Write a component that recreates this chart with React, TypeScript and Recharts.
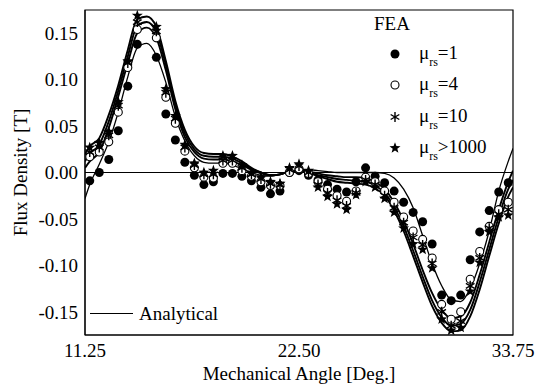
import React from 'react';
import { ComposedChart, Line, Scatter, XAxis, YAxis, ReferenceLine, ReferenceArea } from 'recharts';

const FONT = '"Liberation Serif", "Times New Roman", Times, serif';
const FS = 19;

// Analytical curves: angle [deg] and flux density [T]
const lineAngles = [
  11.25, 11.5, 12.0, 12.5, 13.0, 13.5, 14.0, 14.5, 15.0, 15.5,
  16.0, 16.5, 17.0, 17.5, 18.0, 18.5, 19.0, 19.5, 20.0, 20.5,
  21.0, 21.5, 22.0, 22.5, 23.0, 23.5, 24.0, 24.5, 25.0, 25.5,
  26.0, 26.5, 27.0, 27.5, 28.0, 28.5, 29.0, 29.5, 30.0, 30.5,
  31.0, 31.5, 32.0, 32.5, 33.0, 33.5, 33.75,
];
const analyticMu1 = [
  -0.028, -0.013, 0.009, 0.033, 0.065, 0.103, 0.134, 0.139, 0.126, 0.097,
  0.060, 0.034, 0.018, 0.011, 0.010, 0.010, 0.008, 0.004, 0.000, -0.003,
  -0.004, -0.002, 0.001, 0.003, 0.003, 0.002, 0.001, 0.000, 0.000, 0.000,
  0.000, 0.000, -0.001, -0.006, -0.018, -0.038, -0.068, -0.098, -0.122, -0.137,
  -0.139, -0.125, -0.098, -0.063, -0.020, 0.012, 0.026,
];
const analyticMu4 = [
  0.005, 0.012, 0.022, 0.048, 0.082, 0.118, 0.150, 0.156, 0.145, 0.110,
  0.068, 0.038, 0.022, 0.015, 0.014, 0.014, 0.012, 0.008, 0.003, -0.001,
  -0.003, -0.002, 0.001, 0.002, 0.001, -0.001, -0.003, -0.004, -0.005, -0.005,
  -0.006, -0.010, -0.018, -0.032, -0.052, -0.077, -0.105, -0.130, -0.148, -0.157,
  -0.155, -0.140, -0.110, -0.075, -0.040, -0.010, 0.002,
];
const analyticMu10 = [
  0.012, 0.020, 0.030, 0.055, 0.088, 0.125, 0.158, 0.162, 0.151, 0.116,
  0.073, 0.042, 0.025, 0.018, 0.017, 0.017, 0.015, 0.010, 0.004, 0.000,
  -0.003, -0.002, 0.001, 0.002, 0.000, -0.003, -0.005, -0.007, -0.008, -0.009,
  -0.010, -0.014, -0.022, -0.037, -0.058, -0.084, -0.112, -0.138, -0.156, -0.165,
  -0.163, -0.148, -0.118, -0.083, -0.048, -0.018, -0.008,
];
const analyticMu1000 = [
  0.020, 0.028, 0.037, 0.062, 0.094, 0.132, 0.165, 0.168, 0.157, 0.120,
  0.077, 0.046, 0.028, 0.021, 0.020, 0.020, 0.017, 0.012, 0.005, 0.000,
  -0.003, -0.002, 0.001, 0.002, 0.000, -0.004, -0.007, -0.010, -0.011, -0.012,
  -0.013, -0.017, -0.025, -0.041, -0.063, -0.090, -0.118, -0.144, -0.162, -0.171,
  -0.170, -0.155, -0.126, -0.090, -0.055, -0.026, -0.016,
];

// FEA results
const feaAngles = [
  11.5, 12.0, 12.5, 13.0, 13.5, 14.0, 14.5, 15.0, 15.5, 16.0,
  16.5, 17.0, 17.5, 18.0, 18.5, 19.0, 19.5, 20.0, 20.5, 21.0,
  21.5, 22.0, 22.5, 23.0, 23.5, 24.0, 24.5, 25.0, 25.5, 26.0,
  26.5, 27.0, 27.5, 28.0, 28.5, 29.0, 29.5, 30.0, 30.5, 31.0,
  31.5, 32.0, 32.5, 33.0, 33.5,
];
const feaMu1 = [
  -0.009, 0.000, 0.014, 0.045, 0.093, 0.138, null, 0.124, 0.063, 0.035,
  0.011, -0.003, -0.013, -0.010, -0.001, -0.001, -0.004, -0.009, -0.016, -0.023,
  -0.020, 0.000, 0.002, -0.003, -0.008, -0.013, -0.018, -0.021, -0.010, 0.005,
  -0.004, -0.011, -0.020, -0.032, -0.043, -0.053, -0.077, -0.132, -0.138, -0.132,
  -0.094, -0.064, -0.041, -0.021, -0.011,
];
const feaMu4 = [
  0.017, 0.022, 0.033, 0.065, 0.113, 0.154, null, 0.145, 0.081, 0.053,
  0.023, 0.005, -0.005, -0.006, 0.010, 0.010, 0.002, -0.004, -0.010, -0.014,
  -0.014, 0.000, 0.004, -0.001, -0.010, -0.018, -0.025, -0.031, -0.020, -0.005,
  -0.010, -0.020, -0.032, -0.048, -0.063, -0.072, -0.092, -0.142, -0.158, -0.150,
  -0.115, -0.085, -0.058, -0.040, -0.032,
];
const feaMu10 = [
  0.022, 0.027, 0.040, 0.072, 0.118, 0.162, null, 0.152, 0.086, 0.058,
  0.027, 0.008, -0.002, -0.002, 0.013, 0.013, 0.005, -0.002, -0.007, -0.012,
  -0.013, 0.003, 0.007, 0.000, -0.013, -0.022, -0.030, -0.036, -0.022, -0.008,
  -0.013, -0.025, -0.038, -0.054, -0.070, -0.078, -0.098, -0.150, -0.165, -0.160,
  -0.122, -0.092, -0.060, -0.045, -0.040,
];
const feaMu1000 = [
  0.027, 0.032, 0.044, 0.076, 0.120, 0.169, null, 0.157, 0.090, 0.061,
  0.030, 0.010, 0.000, 0.002, 0.018, 0.018, 0.008, 0.000, -0.005, -0.010,
  -0.012, 0.005, 0.009, 0.002, -0.016, -0.026, -0.034, -0.040, -0.024, -0.010,
  -0.016, -0.028, -0.043, -0.060, -0.077, -0.083, -0.103, -0.158, -0.170, -0.167,
  -0.128, -0.097, -0.064, -0.048, -0.046,
];

const xTicks = [11.25, 22.5, 33.75];
const yTicks = [-0.15, -0.1, -0.05, 0, 0.05, 0.1, 0.15];
const legendLabels = ['=1', '=4', '=10', '>1000'];

const toPoints = (xs: number[], ys: (number | null)[]) =>
  xs.map((x, i) => ({ x, y: ys[i] })).filter((p) => p.y !== null);

const FilledDot = (p: any) => <circle cx={p.cx} cy={p.cy} r={4.5} fill="#000" />;
const OpenDot = (p: any) => <circle cx={p.cx} cy={p.cy} r={4} fill="#fff" stroke="#000" strokeWidth={1.1} />;
const AsteriskMark = (p: any) => {
  const r = 5;
  const segs = [90, 30, 150].map((a) => {
    const dx = r * Math.cos((a * Math.PI) / 180);
    const dy = r * Math.sin((a * Math.PI) / 180);
    return `M${p.cx - dx},${p.cy - dy}L${p.cx + dx},${p.cy + dy}`;
  });
  return <path d={segs.join('')} stroke="#000" strokeWidth={1.4} fill="none" />;
};
const starPath = (cx: number, cy: number, ro: number, ri: number) => {
  const pts: string[] = [];
  for (let k = 0; k < 10; k++) {
    const r = k % 2 === 0 ? ro : ri;
    const a = -Math.PI / 2 + (k * Math.PI) / 5;
    pts.push(`${cx + r * Math.cos(a)},${cy + r * Math.sin(a)}`);
  }
  return `M${pts.join('L')}Z`;
};
const StarMark = (p: any) => <path d={starPath(p.cx, p.cy, 5.8, 2.4)} fill="#000" />;

const YTitle = (props: any) => {
  const vb = props.viewBox || { x: 0, y: 10, width: 85, height: 325 };
  const cx = vb.x + 20;
  const cy = vb.y + vb.height / 2;
  return (
    <text x={cx} y={cy} transform={`rotate(-90 ${cx} ${cy})`} textAnchor="middle" dominantBaseline="central"
      fontFamily={FONT} fontSize={FS} fill="#000">Flux Density [T]</text>
  );
};
const XTitle = (props: any) => {
  const vb = props.viewBox || { x: 85, y: 335, width: 428, height: 50 };
  const cx = vb.x + vb.width / 2;
  const cy = vb.y + 38;
  return (
    <text x={cx} y={cy} textAnchor="middle" dominantBaseline="central"
      fontFamily={FONT} fontSize={FS} fill="#000">Mechanical Angle [Deg.]</text>
  );
};

const legendSymbols = [
  <svg width={14} height={14}><FilledDot cx={7} cy={7} /></svg>,
  <svg width={14} height={14}><OpenDot cx={7} cy={7} /></svg>,
  <svg width={14} height={14}><AsteriskMark cx={7} cy={7} /></svg>,
  <svg width={14} height={14}><StarMark cx={7} cy={7} /></svg>,
];

export default function App() {
  const tickStyle = { fontFamily: FONT, fontSize: FS, fill: '#000' };
  const rowY = [54, 85, 117, 148];
  return (
    <div style={{ position: 'absolute', left: 0, top: 0, width: 544, height: 385, background: '#fff' }}>
      <ComposedChart width={544} height={385} margin={{ top: 10, right: 31, bottom: 0, left: 0 }}>
        <XAxis type="number" dataKey="x" domain={[11.25, 33.75]} ticks={xTicks} allowDataOverflow
          tickFormatter={(v: number) => v.toFixed(2)} tick={tickStyle} tickLine={false} tickSize={0} tickMargin={9}
          height={50} stroke="#000" label={<XTitle />} />
        <YAxis type="number" domain={[-0.175, 0.175]} ticks={yTicks} allowDataOverflow
          tickFormatter={(v: number) => v.toFixed(2)} tick={tickStyle} tickLine={false} tickSize={0} tickMargin={7}
          width={85} stroke="#000" label={<YTitle />} />
        <ReferenceArea x1={11.25} x2={33.75} y1={-0.175} y2={0.175} fill="none" stroke="#000" strokeWidth={1.2} />
        <ReferenceLine y={0} stroke="#000" strokeWidth={1.1} />
        <Line data={toPoints(lineAngles, analyticMu1)} dataKey="y" type="monotone" stroke="#000" strokeWidth={1.3} dot={false} isAnimationActive={false} />
        <Line data={toPoints(lineAngles, analyticMu4)} dataKey="y" type="monotone" stroke="#000" strokeWidth={1.9} dot={false} isAnimationActive={false} />
        <Line data={toPoints(lineAngles, analyticMu10)} dataKey="y" type="monotone" stroke="#000" strokeWidth={1.9} dot={false} isAnimationActive={false} />
        <Line data={toPoints(lineAngles, analyticMu1000)} dataKey="y" type="monotone" stroke="#000" strokeWidth={1.9} dot={false} isAnimationActive={false} />
        <Scatter data={toPoints(feaAngles, feaMu1)} dataKey="y" shape={FilledDot} isAnimationActive={false} />
        <Scatter data={toPoints(feaAngles, feaMu4)} dataKey="y" shape={OpenDot} isAnimationActive={false} />
        <Scatter data={toPoints(feaAngles, feaMu10)} dataKey="y" shape={AsteriskMark} isAnimationActive={false} />
        <Scatter data={toPoints(feaAngles, feaMu1000)} dataKey="y" shape={StarMark} isAnimationActive={false} />
      </ComposedChart>
      <div style={{ position: 'absolute', left: 362, top: 13, width: 60, textAlign: 'center', fontFamily: FONT, fontSize: FS, lineHeight: '22px', color: '#000' }}>FEA</div>
      {legendLabels.map((lab, i) => (
        <React.Fragment key={lab}>
          <div style={{ position: 'absolute', left: 388, top: rowY[i] - 7, width: 14, height: 14 }}>{legendSymbols[i]}</div>
          <div style={{ position: 'absolute', left: 419, top: rowY[i] - 12, fontFamily: FONT, fontSize: FS, lineHeight: '22px', color: '#000', whiteSpace: 'nowrap' }}>
            μ<span style={{ fontSize: 12, position: 'relative', top: 7 }}>rs</span>{lab}
          </div>
        </React.Fragment>
      ))}
      <div style={{ position: 'absolute', left: 90, top: 313, width: 43, height: 0, borderTop: '1.5px solid #000' }} />
      <div style={{ position: 'absolute', left: 139, top: 303, fontFamily: FONT, fontSize: FS, lineHeight: '22px', color: '#000' }}>Analytical</div>
    </div>
  );
}
